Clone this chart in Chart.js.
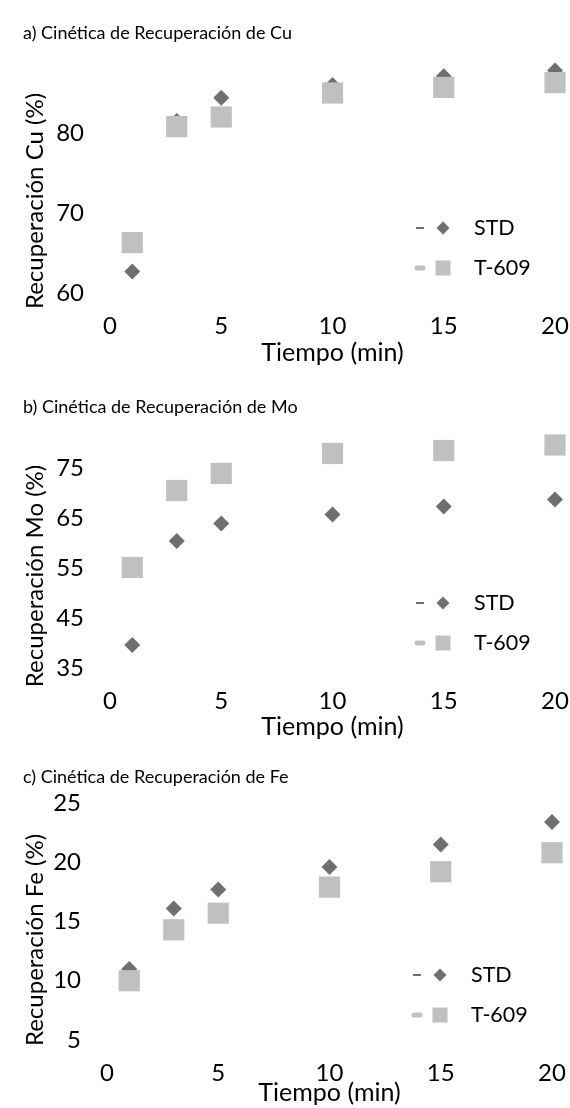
<!DOCTYPE html>
<html>
<head>
<meta charset="utf-8">
<script src="https://cdn.jsdelivr.net/npm/chart.js@4.4.1/dist/chart.umd.min.js"></script>
<style>
  body { margin: 0; background: #fff; }
  .panel { position: absolute; left: 0; width: 570px; }
</style>
</head>
<body>
<div class="panel" style="top:0;height:368px"><canvas id="chartCu"></canvas></div>
<div class="panel" style="top:368px;height:374px"><canvas id="chartMo"></canvas></div>
<div class="panel" style="top:742px;height:366px"><canvas id="chartFe"></canvas></div>
<script>
// datos
const tiempo = [1, 3, 5, 10, 15, 20];

const cuSTD  = [62.7, 81.5, 84.4, 86.0, 87.1, 87.8];
const cuT609 = [66.3, 80.8, 82.0, 85.0, 85.7, 86.3];

const moSTD  = [39.6, 60.4, 63.9, 65.7, 67.3, 68.7];
const moT609 = [55.1, 70.5, 73.9, 77.9, 78.5, 79.6];

const feSTD  = [11.0, 16.1, 17.7, 19.6, 21.5, 23.4];
const feT609 = [10.0, 14.3, 15.7, 17.9, 19.2, 20.8];

const xTicks    = [0, 5, 10, 15, 20];
const yTicksCu  = [60, 70, 80];
const yTicksMo  = [35, 45, 55, 65, 75];
const yTicksFe  = [5, 10, 15, 20, 25];

const seriesNames = ['STD', 'T-609'];

const FONT = 'Lato, "Liberation Sans", sans-serif';
const colorSTD = '#6f6f6f';
const colorT609 = '#c0c0c0';

// leyenda dentro del área del gráfico (como en Excel)
const leyendaInterna = {
  id: 'leyendaInterna',
  afterDraw(chart, args, opts) {
    const { ctx, chartArea } = chart;
    ctx.save();
    chart.data.datasets.forEach((ds, i) => {
      const y = chartArea.bottom - opts.rows[i];
      const mx = chartArea.right - opts.markerX;
      // trazo corto delante del marcador
      ctx.beginPath();
      ctx.strokeStyle = ds.backgroundColor;
      if (ds.pointStyle === 'rectRot') {
        ctx.lineWidth = 2;
        ctx.lineCap = 'butt';
        ctx.moveTo(mx - 27, y);
        ctx.lineTo(mx - 19, y);
      } else {
        ctx.lineWidth = 5;
        ctx.lineCap = 'round';
        ctx.moveTo(mx - 26, y);
        ctx.lineTo(mx - 20, y);
      }
      ctx.stroke();
      // marcador
      ctx.fillStyle = ds.backgroundColor;
      ctx.beginPath();
      if (ds.pointStyle === 'rectRot') {
        const r = 6.5;
        ctx.moveTo(mx - r, y);
        ctx.lineTo(mx, y - r);
        ctx.lineTo(mx + r, y);
        ctx.lineTo(mx, y + r);
        ctx.closePath();
      } else {
        ctx.rect(mx - 7.5, y - 7.5, 15, 15);
      }
      ctx.fill();
      // texto
      ctx.fillStyle = '#000';
      ctx.font = '21.5px ' + FONT;
      ctx.textAlign = 'left';
      ctx.textBaseline = 'middle';
      ctx.fillText(ds.label, chartArea.right - opts.textX, y);
    });
    ctx.restore();
  }
};

// título del eje Y girado, centrado algo más abajo que el área
const tituloY = {
  id: 'tituloY',
  afterDraw(chart, args, opts) {
    const { ctx } = chart;
    ctx.save();
    ctx.translate(opts.x, opts.y);
    ctx.rotate(-Math.PI / 2);
    ctx.fillStyle = '#000';
    ctx.font = '24px ' + FONT;
    ctx.textAlign = 'center';
    ctx.textBaseline = 'middle';
    ctx.fillText(opts.text, 0, 0);
    ctx.restore();
  }
};

function crearGrafico(id, p) {
  const ctx = document.getElementById(id).getContext('2d');
  return new Chart(ctx, {
    type: 'scatter',
    data: {
      datasets: [
        {
          label: seriesNames[0],
          data: tiempo.map((t, i) => ({ x: t, y: p.std[i] })),
          pointStyle: 'rectRot',
          pointRadius: 8,
          pointHoverRadius: 8,
          backgroundColor: colorSTD,
          borderColor: colorSTD,
          borderWidth: 0,
          clip: false,
          order: 1
        },
        {
          label: seriesNames[1],
          data: tiempo.map((t, i) => ({ x: t, y: p.t609[i] })),
          pointStyle: 'rect',
          pointRadius: 15,
          pointHoverRadius: 15,
          backgroundColor: colorT609,
          borderColor: colorT609,
          borderWidth: 0,
          clip: false,
          order: 0
        }
      ]
    },
    options: {
      responsive: true,
      maintainAspectRatio: false,
      animation: false,
      layout: { padding: { left: 23, right: p.padRight, top: 0, bottom: 0 } },
      plugins: {
        legend: { display: false },
        tooltip: { enabled: false },
        title: {
          display: true,
          text: p.titulo,
          align: 'start',
          color: '#000',
          font: { family: FONT, size: 18, lineHeight: 1.2, weight: 'normal' },
          padding: { top: p.tTop, bottom: p.tBottom }
        },
        leyendaInterna: { rows: [65, 25], markerX: 112, textX: 81 },
        tituloY: { text: p.ejeY, x: 35, y: p.yTitleY }
      },
      scales: {
        x: {
          type: 'linear',
          min: 0,
          max: 20,
          border: { display: false },
          grid: { display: false, drawTicks: true, tickLength: 19 },
          afterBuildTicks: s => { s.ticks = xTicks.map(v => ({ value: v })); },
          afterFit: s => { s.height = p.xHeight; },
          ticks: {
            padding: 0,
            color: '#000',
            font: { family: FONT, size: 24, lineHeight: 1.2 }
          },
          title: {
            display: true,
            text: 'Tiempo (min)',
            color: '#000',
            font: { family: FONT, size: 25, lineHeight: 1.2 },
            padding: { top: 0, bottom: 0 }
          }
        },
        y: {
          type: 'linear',
          min: p.yMin,
          max: p.yMax,
          border: { display: false },
          grid: { display: false, drawTicks: true, tickLength: 26 },
          afterBuildTicks: s => { s.ticks = p.yTicks.map(v => ({ value: v })); },
          afterFit: s => { s.width = p.yWidth; },
          ticks: {
            padding: 0,
            color: '#000',
            font: { family: FONT, size: 24, lineHeight: 1.2 }
          }
        }
      }
    },
    plugins: [leyendaInterna, tituloY]
  });
}

crearGrafico('chartCu', {
  titulo: 'a) Cinética de Recuperación de Cu',
  ejeY: 'Recuperación Cu (%)',
  std: cuSTD, t609: cuT609,
  yMin: 60, yMax: 89, yTicks: yTicksCu,
  tTop: 22.2, tBottom: 17.2,
  padRight: 15, yWidth: 87, xHeight: 75, yTitleY: 201
});

crearGrafico('chartMo', {
  titulo: 'b) Cinética de Recuperación de Mo',
  ejeY: 'Recuperación Mo (%)',
  std: moSTD, t609: moT609,
  yMin: 35, yMax: 80, yTicks: yTicksMo,
  tTop: 28.2, tBottom: 25.2,
  padRight: 15, yWidth: 87, xHeight: 74, yTitleY: 208
});

crearGrafico('chartFe', {
  titulo: 'c) Cinética de Recuperación de Fe',
  ejeY: 'Recuperación Fe (%)',
  std: feSTD, t609: feT609,
  yMin: 5, yMax: 25, yTicks: yTicksFe,
  tTop: 24.2, tBottom: 15.2,
  padRight: 18, yWidth: 84, xHeight: 68, yTitleY: 198
});
</script>
</body>
</html>
